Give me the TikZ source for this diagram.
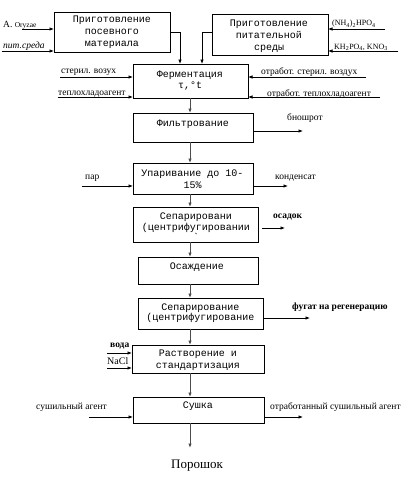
\documentclass[tikz,border=0pt]{standalone}
\usepackage{fontspec}
\setmainfont{Liberation Serif}
\newfontfamily\monof{Liberation Mono}
\usetikzlibrary{arrows.meta}
\begin{document}
\begin{tikzpicture}[x=1pt,y=-1pt,
  box/.style={draw, line width=0.8pt, inner sep=0pt, outer sep=0pt},
  btxt/.style={font=\monof\fontsize{10}{12}\selectfont, align=center, inner sep=0pt},
  lbl/.style={font=\fontsize{9.5}{11}\selectfont, inner sep=0pt, anchor=west},
  arr/.style={-{Latex[length=4.5pt,width=3.5pt]}, line width=0.7pt},
  flow/.style={-{Latex[length=4.5pt,width=3.5pt]}, line width=0.9pt, draw=black!70}]
\useasboundingbox (0,0) rectangle (419,479);
% boxes
\node[box, minimum width=116pt, minimum height=40pt] (b1) at (112,32) {};
\node[box, minimum width=116pt, minimum height=41pt] (b2) at (270,34.5) {};
\node[box, minimum width=115pt, minimum height=34pt] (ferm) at (190.5,81) {};
\node[box, minimum width=120pt, minimum height=29pt] (filt) at (193,127.5) {};
\node[box, minimum width=120pt, minimum height=31pt] (evap) at (193,178.5) {};
\node[box, minimum width=125pt, minimum height=35pt] (sep1) at (195.5,224.5) {};
\node[box, minimum width=120pt, minimum height=27pt] (osad) at (198,270.5) {};
\node[box, minimum width=125pt, minimum height=31pt] (sep2) at (200.5,313.5) {};
\node[box, minimum width=132pt, minimum height=28pt] (rast) at (198,359) {};
\node[box, minimum width=131pt, minimum height=26pt] (sush) at (198.5,410) {};
% box texts
\node[btxt] (t1) at (112,32) {Приготовление\\посевного\\материала};
\node[btxt] (t2) at (269,36) {Приготовление\\питательной\\среды};
\node[btxt, font=\monof\fontsize{10}{11}\selectfont] (t3) at (190,80.5) {Ферментация\\τ,°t};
\node[btxt] (t4) at (193,124) {Фильтрование};
\node[btxt] (t5) at (192.5,179) {Упаривание до 10-\\15\%};
\node[btxt, font=\monof\fontsize{10}{10.5}\selectfont] (t6) at (196,227) {Сепарировани\\(центрифугировании\\{\char"60}};
\node[btxt] (t7) at (197,267) {Осаждение};
\node[btxt, font=\monof\fontsize{10}{10.5}\selectfont] (t8) at (200.5,313) {Сепарирование\\(центрифугирование};
\node[btxt] (t9) at (198,360) {Растворение и\\стандартизация};
\node[btxt] (t10) at (198,406) {Сушка};
% labels
\node[lbl] (lA) at (3,25) {A. {\fontsize{7.5}{8}\selectfont Oryzae}};
\node[lbl, font=\fontsize{9.5}{11}\itshape] (lB) at (3,46) {пит.среда};
\node[lbl, font=\fontsize{8}{9}\selectfont] (lC) at (332,24) {(NH\textsubscript{4})\textsubscript{2}HPO\textsubscript{4}};
\node[lbl, font=\fontsize{8}{9}\selectfont] (lD) at (334,47) {KH\textsubscript{2}PO\textsubscript{4}, KNO\textsubscript{3}};
\node[lbl] (lE) at (61,72) {стерил. возух};
\node[lbl] (lF) at (58,94) {теплохладоагент};
\node[lbl] (lG) at (261,72) {отработ. стерил. воздух};
\node[lbl] (lH) at (267,94) {отработ. теплохладоагент};
\node[lbl] (lI) at (287,118) {бношрот};
\node[lbl] (lJ) at (85,178) {пар};
\node[lbl] (lK) at (275,178) {конденсат};
\node[lbl, font=\fontsize{9.5}{11}\bfseries] (lL) at (273,217) {осадок};
\node[lbl, font=\fontsize{9.5}{11}\bfseries] (lM) at (292,307) {фугат на регенерацию};
\node[lbl, font=\fontsize{9.5}{11}\bfseries] (lN) at (110,346) {вода};
\node[lbl, font=\fontsize{10}{11}\selectfont] (lO) at (107,361) {NaCl};
\node[lbl] (lP) at (36,407) {сушильный агент};
\node[lbl] (lQ) at (270,407) {отработанный сушильный агент};
\node[font=\fontsize{13}{15}\selectfont, inner sep=0pt] (lR) at (197,466) {Порошок};
% coordinates
\coordinate (ax) at (190,0);
\coordinate (k1) at (180,32);
\coordinate (k2) at (202,32);
\coordinate (inA) at (22,29);
\coordinate (inB) at (2,51);
\coordinate (inC) at (385,29);
\coordinate (inD) at (398,51);
\coordinate (f1) at (60,77);
\coordinate (f2) at (58,97);
\coordinate (f3) at (366,77);
\coordinate (f4) at (380,97);
\coordinate (fo) at (303,131);
\coordinate (ei) at (82,186);
\coordinate (eo) at (288,186);
\coordinate (so1) at (285,228);
\coordinate (so2) at (310,318);
\coordinate (ri1) at (107,353);
\coordinate (ri2) at (107,368);
\coordinate (si) at (89,417);
\coordinate (so) at (303,417);
\coordinate (pend) at (190,448);
% connectors
\draw[arr] (b1.east |- k1) -| (k1 |- ferm.north);
\draw[arr] (b2.west |- k2) -| (k2 |- ferm.north);
\draw[arr] (inA) -- (inA -| b1.west);
\draw[arr] (inB) -- (inB -| b1.west);
\draw[arr] (inC) -- (inC -| b2.east);
\draw[arr] (inD) -- (inD -| b2.east);
\draw[arr] (f1) -- (f1 -| ferm.west);
\draw[arr] (f2) -- (f2 -| ferm.west);
\draw[arr] (f3) -- (f3 -| ferm.east);
\draw[arr] (f4) -- (f4 -| ferm.east);
\draw[flow] (ferm.south -| ax) -- (filt.north -| ax);
\draw[flow] (filt.south -| ax) -- (evap.north -| ax);
\draw[flow] (evap.south -| ax) -- (sep1.north -| ax);
\draw[flow] (sep1.south -| ax) -- (osad.north -| ax);
\draw[flow] (osad.south -| ax) -- (sep2.north -| ax);
\draw[flow] (sep2.south -| ax) -- (rast.north -| ax);
\draw[flow] (rast.south -| ax) -- (sush.north -| ax);
\draw[flow] (sush.south -| ax) -- (pend);
\draw[arr] (fo -| filt.east) -- (fo);
\draw[arr] (ei) -- (ei -| evap.west);
\draw[arr] (eo -| evap.east) -- (eo);
\draw[arr] (so1 -| sep1.east) ++(4,0) -- (so1);
\draw[arr] (so2 -| sep2.east) -- (so2);
\draw[arr] (ri1) -- (ri1 -| rast.west);
\draw[arr] (ri2) -- (ri2 -| rast.west);
\draw[arr] (si) -- (si -| sush.west);
\draw[arr] (so -| sush.east) -- (so);
\end{tikzpicture}
\end{document}
